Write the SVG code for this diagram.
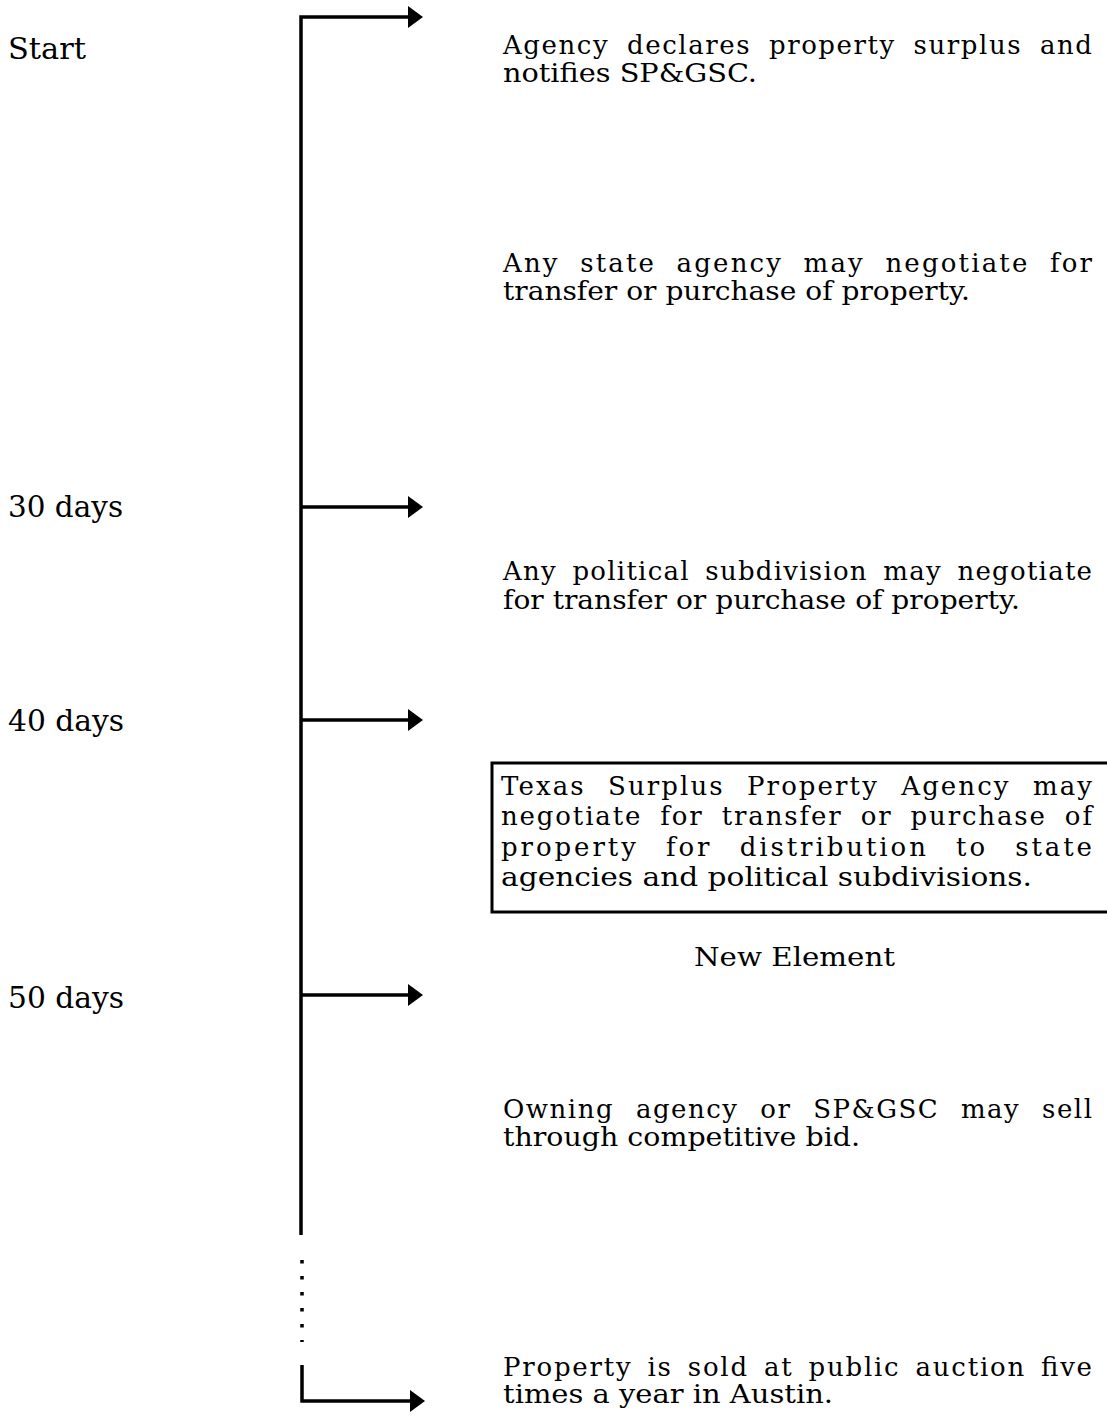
<svg xmlns="http://www.w3.org/2000/svg" width="1107" height="1416" viewBox="0 0 1107 1416">
<style>
text{font-family:"DejaVu Serif","Liberation Serif",serif;fill:#000}
.lab{font-size:30px}
.t{font-size:26px}
.ln{stroke:#000;stroke-width:3.5;fill:none}
.hd{fill:#000}
</style>
<rect width="1107" height="1416" fill="#fff"/>
<g id="connectors">
<path class="ln" d="M301,1235 V17 H410"/>
<polygon class="hd" points="408,6 423,17 408,28"/>
<path class="ln" d="M301,507 H410"/>
<polygon class="hd" points="408,496 423,507 408,518"/>
<path class="ln" d="M301,720 H410"/>
<polygon class="hd" points="408,709 423,720 408,731"/>
<path class="ln" d="M301,995 H410"/>
<polygon class="hd" points="408,984 423,995 408,1006"/>
<path class="ln" d="M302,1260 V1342" stroke-dasharray="3.5 12.5"/>
<path class="ln" d="M302,1365 V1401 H412"/>
<polygon class="hd" points="410,1390 425,1401 410,1412"/>
</g>
<g id="label-start"><text class="lab" x="8" y="59" textLength="78" lengthAdjust="spacingAndGlyphs">Start</text></g>
<g id="label-30"><text class="lab" x="8" y="517" textLength="115" lengthAdjust="spacingAndGlyphs">30 days</text></g>
<g id="label-40"><text class="lab" x="8" y="731" textLength="116" lengthAdjust="spacingAndGlyphs">40 days</text></g>
<g id="label-50"><text class="lab" x="8" y="1008" textLength="116" lengthAdjust="spacingAndGlyphs">50 days</text></g>
<g id="step-declare">
<text class="t" x="503" y="54" word-spacing="8" textLength="589" lengthAdjust="spacing">Agency declares property surplus and</text>
<text class="t" x="503" y="82" textLength="254" lengthAdjust="spacingAndGlyphs">notifies SP&amp;GSC.</text>
</g>
<g id="step-state">
<text class="t" x="503" y="272" word-spacing="10" textLength="589" lengthAdjust="spacing">Any state agency may negotiate for</text>
<text class="t" x="503" y="300" textLength="467" lengthAdjust="spacingAndGlyphs">transfer or purchase of property.</text>
</g>
<g id="step-political">
<text class="t" x="503" y="580" word-spacing="6" textLength="589" lengthAdjust="spacing">Any political subdivision may negotiate</text>
<text class="t" x="503" y="609" textLength="517" lengthAdjust="spacingAndGlyphs">for transfer or purchase of property.</text>
</g>
<g id="step-tspa">
<rect x="492" y="763" width="620" height="149" fill="none" stroke="#000" stroke-width="3"/>
<text class="t" x="501" y="795" word-spacing="12" textLength="591" lengthAdjust="spacing">Texas Surplus Property Agency may</text>
<text class="t" x="501" y="825" word-spacing="8" textLength="591" lengthAdjust="spacing">negotiate for transfer or purchase of</text>
<text class="t" x="501" y="856" word-spacing="16" textLength="591" lengthAdjust="spacing">property for distribution to state</text>
<text class="t" x="501" y="886" textLength="531" lengthAdjust="spacingAndGlyphs">agencies and political subdivisions.</text>
</g>
<g id="new-element"><text class="t" x="694" y="966" textLength="201" lengthAdjust="spacingAndGlyphs">New Element</text></g>
<g id="step-bid">
<text class="t" x="503" y="1118" word-spacing="12" textLength="589" lengthAdjust="spacing">Owning agency or SP&amp;GSC may sell</text>
<text class="t" x="503" y="1146" textLength="357" lengthAdjust="spacingAndGlyphs">through competitive bid.</text>
</g>
<g id="step-auction">
<text class="t" x="503" y="1376" word-spacing="5" textLength="589" lengthAdjust="spacing">Property is sold at public auction five</text>
<text class="t" x="503" y="1403" textLength="330" lengthAdjust="spacingAndGlyphs">times a year in Austin.</text>
</g>
</svg>
